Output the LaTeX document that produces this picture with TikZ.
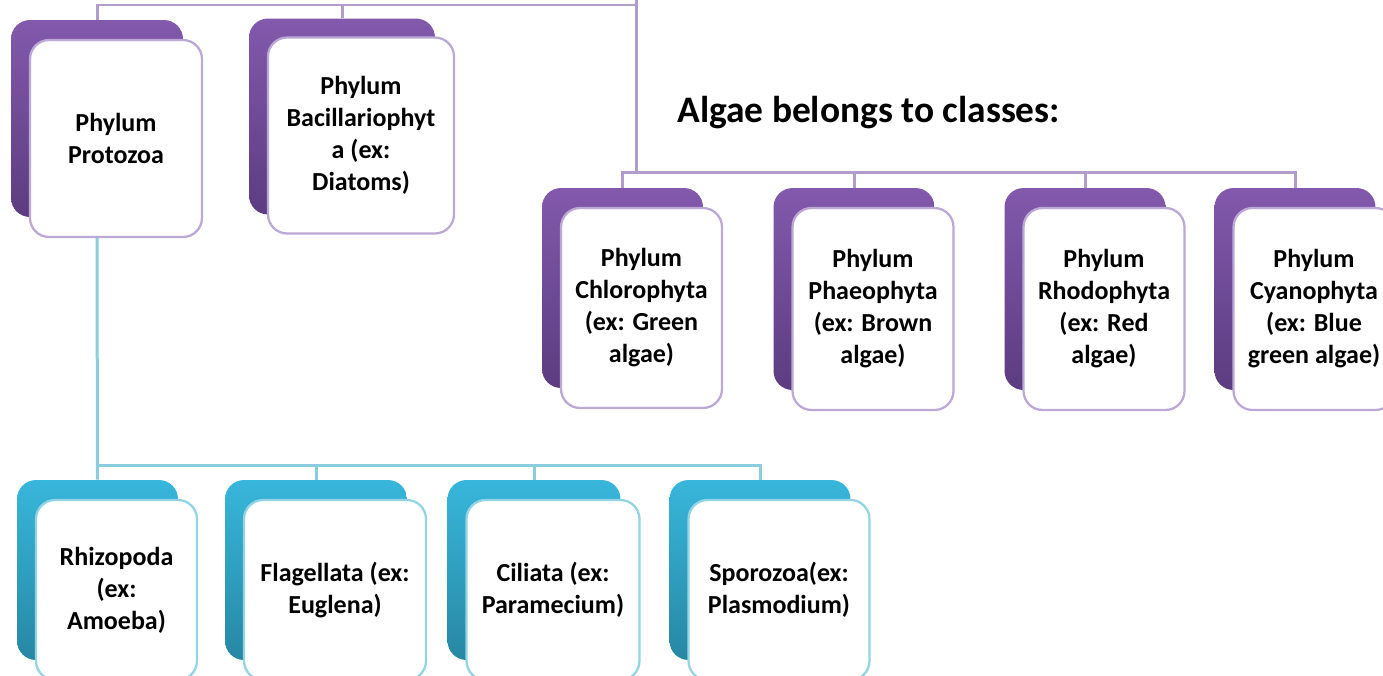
\documentclass[tikz,border=0pt]{standalone}
\usepackage{fontspec}
\setmainfont{Carlito}
\usepackage{xcolor}
\usetikzlibrary{positioning,calc}
\definecolor{purpTop}{HTML}{8259AC}
\definecolor{purpBot}{HTML}{5C3C80}
\definecolor{purpEdge}{HTML}{BCA8D6}
\definecolor{purpLine}{HTML}{B19CCC}
\definecolor{cyanTop}{HTML}{38B6DB}
\definecolor{cyanBot}{HTML}{2787A3}
\definecolor{cyanEdge}{HTML}{92D3E4}
\definecolor{cyanLine}{HTML}{8ACDDF}

\begin{document}
\begin{tikzpicture}[x=0.02cm,y=-0.02cm,
		pback/.style={rounded corners=0.38cm, top color=purpTop, bottom color=purpBot, inner sep=0pt},
		bback/.style={rounded corners=0.38cm, top color=cyanTop, bottom color=cyanBot, inner sep=0pt},
		pcard/.style={draw=purpEdge, line width=0.045cm, fill=white, rounded corners=0.38cm, align=center, font=\bfseries\fontsize{14.8}{18.2}\selectfont},
		bcard/.style={draw=cyanEdge, line width=0.045cm, fill=white, rounded corners=0.38cm, align=center, font=\bfseries\fontsize{14.8}{18.2}\selectfont},
		pline/.style={draw=purpLine, line width=0.06cm},
		bline/.style={draw=cyanLine, line width=0.06cm}]
		\useasboundingbox (0,0) rectangle (1383,676);
		
		% purple cards, top row
		\node[pback, minimum width=3.44cm, minimum height=3.94cm] (protoB) at (97,118.5) {};
		\node[pcard, minimum width=3.44cm, minimum height=3.94cm] (proto) at ([shift={(19,20)}]protoB.center) {Phylum\\Protozoa};
		\node[pback, minimum width=3.72cm, minimum height=3.92cm] (bacilB) at (342,116.5) {};
		\node[pcard, minimum width=3.72cm, minimum height=3.92cm] (bacil) at ([shift={(19,19)}]bacilB.center) {Phylum\\Bacillariophyt\\a (ex:\\Diatoms)};
		
		\node[anchor=base west, inner sep=0pt, font=\bfseries\fontsize{21.3}{26}\selectfont] (title) at (677,122) {Algae belongs to classes:};
		
		% purple cards, algae row
		\node[pback, minimum width=3.22cm, minimum height=4cm] (chlorB) at (622.5,288) {};
		\node[pcard, minimum width=3.22cm, minimum height=4cm] (chlor) at ([shift={(19,20)}]chlorB.center) {Phylum\\Chlorophyta\\(ex: Green\\algae)};
		\node[pback, minimum width=3.22cm, minimum height=4.04cm] (phaeoB) at (854,289) {};
		\node[pcard, minimum width=3.22cm, minimum height=4.04cm] (phaeo) at ([shift={(19,20)}]phaeoB.center) {Phylum\\Phaeophyta\\(ex: Brown\\algae)};
		\node[pback, minimum width=3.22cm, minimum height=4.04cm] (rhodoB) at (1085,289) {};
		\node[pcard, minimum width=3.22cm, minimum height=4.04cm] (rhodo) at ([shift={(19,20)}]rhodoB.center) {Phylum\\Rhodophyta\\(ex: Red\\algae)};
		\node[pback, minimum width=3.22cm, minimum height=4.04cm] (cyanoB) at (1295,289) {};
		\node[pcard, minimum width=3.22cm, minimum height=4.04cm] (cyano) at ([shift={(19,20)}]cyanoB.center) {Phylum\\Cyanophyta\\(ex: Blue\\green algae)};
		
		% blue cards
		\node[bback, minimum width=3.22cm, minimum height=3.6cm] (rhizoB) at (97.5,570) {};
		\node[bcard, minimum width=3.22cm, minimum height=3.6cm] (rhizo) at ([shift={(19,20)}]rhizoB.center) {Rhizopoda\\(ex:\\Amoeba)};
		\node[bback, minimum width=3.64cm, minimum height=3.6cm] (flagB) at (316,570) {};
		\node[bcard, minimum width=3.64cm, minimum height=3.6cm] (flag) at ([shift={(19,20)}]flagB.center) {Flagellata (ex:\\Euglena)};
		\node[bback, minimum width=3.46cm, minimum height=3.6cm] (ciliB) at (534,570) {};
		\node[bcard, minimum width=3.46cm, minimum height=3.6cm] (cili) at ([shift={(19,20)}]ciliB.center) {Ciliata (ex:\\Paramecium)};
		\node[bback, minimum width=3.62cm, minimum height=3.6cm] (sporoB) at (760,570) {};
		\node[bcard, minimum width=3.62cm, minimum height=3.6cm] (sporo) at ([shift={(19,20)}]sporoB.center) {Sporozoa(ex:\\Plasmodium)};
		
		\coordinate (root) at (636,0);
		\coordinate (topbar) at (636,5);
		\coordinate (hub) at (636,172);
		\coordinate (bluebar) at (97,465);
		
		\draw[pline] (root)--(hub);
		\draw[pline] (protoB.north) |- (topbar);
		\draw[pline] (bacilB.north)--(bacilB.north |- topbar);
		\draw[pline] (chlorB.north) |- (hub) -| (cyanoB.north);
		\draw[pline] (phaeoB.north)--(phaeoB.north |- hub);
		\draw[pline] (rhodoB.north)--(rhodoB.north |- hub);
		
		\draw[bline] (protoB.south |- proto.south)--(rhizoB.north);
		\draw[bline] (bluebar) -| (sporoB.north);
		\draw[bline] (flagB.north)--(flagB.north |- bluebar);
		\draw[bline] (ciliB.north)--(ciliB.north |- bluebar);
	\end{tikzpicture}
\end{document}
